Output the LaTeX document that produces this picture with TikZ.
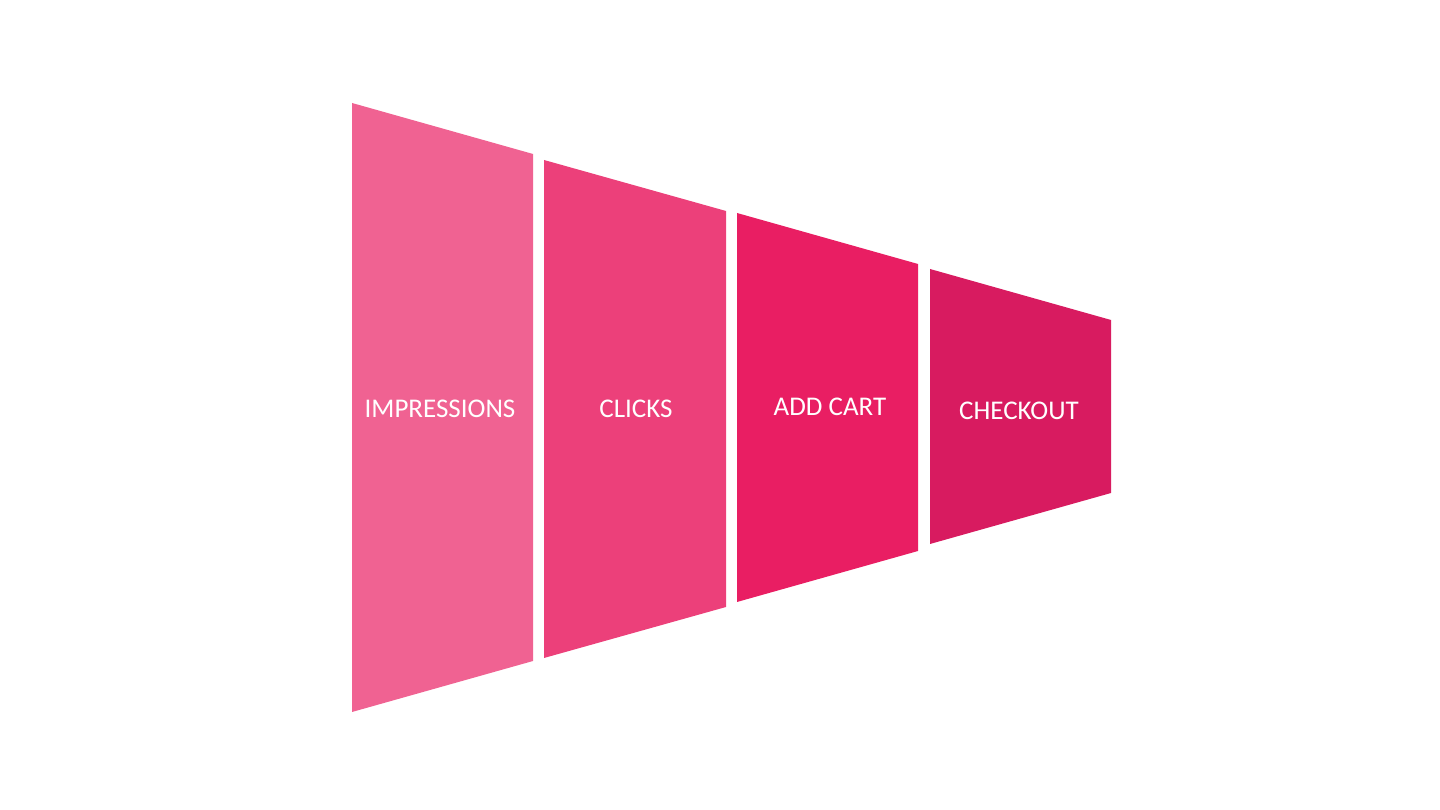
\documentclass[tikz,border=0pt]{standalone}
\usepackage{fontspec}
\setmainfont{Carlito}
\definecolor{pinkA}{HTML}{F06292}
\definecolor{pinkB}{HTML}{EC407A}
\definecolor{pinkC}{HTML}{E91E63}
\definecolor{pinkD}{HTML}{D81B60}
\begin{document}
\begin{tikzpicture}[x=1pt,y=1pt]
\useasboundingbox (0,0) rectangle (1440,810);
\tikzset{stage/.style={text=white,font=\fontsize{27}{31}\selectfont}}
\foreach \xl/\xr/\yt/\yb/\col/\id/\lx/\ly/\txt in {352/533/707/98/pinkA/impressions/440/401/IMPRESSIONS,
    544/726/650/152/pinkB/clicks/636/401/CLICKS,
    737/918/597/208/pinkC/addcart/830/403/ADD CART,
    930/1111/541/266/pinkD/checkout/1019/399/CHECKOUT}
{
    \fill[\col] (\xl,\yt) -- (\xr,{\yt-51}) -- (\xr,{\yb+51}) -- (\xl,\yb) -- cycle;
    \node[stage] (\id) at (\lx,\ly) {\txt};
}
\end{tikzpicture}
\end{document}
